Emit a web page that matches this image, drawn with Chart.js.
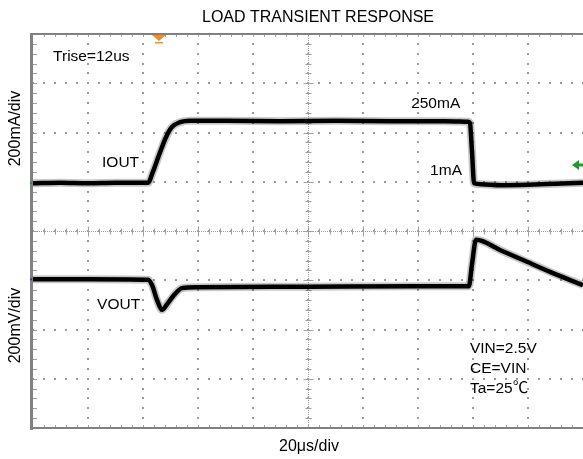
<!DOCTYPE html>
<html>
<head>
<meta charset="utf-8">
<script src="https://cdn.jsdelivr.net/npm/chart.js@4"></script>
<style>
  html, body { margin: 0; padding: 0; background: #fff; }
  canvas { display: block; }
</style>
</head>
<body>
<canvas id="scope" width="583" height="459"></canvas>
<script>
// time in us (20us/div, 10 div), levels in divisions from bottom (8 div)
const iTime = [0, 10, 20, 30, 41.8, 43.6, 46.2, 48.4, 50.5, 53.5, 57, 70, 90, 110, 130, 150, 158.2, 158.9, 159.6, 160.4, 163, 170, 180, 190, 200];
const iout  = [4.97, 4.98, 4.97, 4.98, 4.98, 5.20, 5.60, 5.91, 6.11, 6.21, 6.24, 6.24, 6.23, 6.24, 6.23, 6.23, 6.22, 6.19, 5.65, 4.97, 4.95, 4.93, 4.94, 4.96, 4.98];

const vTime = [0, 20, 41.8, 43.3, 45.1, 46.9, 49.1, 51.6, 54.2, 60, 100, 140, 158.5, 159.6, 161.1, 170, 178.2, 188, 200];
const vout  = [3.02, 3.02, 3.01, 2.90, 2.60, 2.40, 2.54, 2.72, 2.84, 2.86, 2.87, 2.88, 2.88, 3.31, 3.82, 3.61, 3.41, 3.17, 2.90];

const xDivs = 10, yDivs = 8, usPerDiv = 20;
const triggerTime = 45.8;   // orange trigger marker
const refLevel = 5.34;      // green level arrow on the right

const labels = [
  { text: "Trise=12us", t: 7.3, v: 7.45 },
  { text: "IOUT", t: 25.1, v: 5.30 },
  { text: "250mA", t: 137.5, v: 6.50 },
  { text: "1mA", t: 144.4, v: 5.14 },
  { text: "VOUT", t: 23.3, v: 2.42 },
  { text: "VIN=2.5V", t: 158.9, v: 1.52 },
  { text: "CE=VIN", t: 158.9, v: 1.11 },
  { text: "Ta=25℃", t: 158.9, v: 0.71 }
];

function pts(xs, ys) {
  return xs.map((x, i) => ({ x: x, y: ys[i] }));
}

const FONT = "'Liberation Sans', Arial, 'Noto Sans CJK JP', sans-serif";

const graticule = {
  id: "graticule",
  beforeDatasetsDraw(chart) {
    const { ctx, chartArea: a, scales: { x, y } } = chart;
    ctx.save();

    // dotted major lines, a dot every 1/5 div
    ctx.fillStyle = "#9a9a9a";
    for (let i = 1; i < xDivs; i++) {
      const px = Math.round(x.getPixelForValue(i * usPerDiv));
      for (let j = 0; j <= yDivs * 5; j++) {
        const py = Math.round(y.getPixelForValue(j / 5));
        ctx.fillRect(px - 1, py - 1, 2, 2);
      }
    }
    for (let j = 1; j < yDivs; j++) {
      const py = Math.round(y.getPixelForValue(j));
      for (let i = 0; i <= xDivs * 5; i++) {
        const px = Math.round(x.getPixelForValue(i * usPerDiv / 5));
        ctx.fillRect(px - 1, py - 1, 2, 2);
      }
    }

    // centre cross with minor ticks
    const cx = Math.round(x.getPixelForValue(xDivs / 2 * usPerDiv)) + 0.5;
    const cy = Math.round(y.getPixelForValue(yDivs / 2)) + 0.5;
    ctx.strokeStyle = "#a0a0a0";
    ctx.lineWidth = 1;
    ctx.setLineDash([1, 1]);
    ctx.beginPath();
    ctx.moveTo(a.left, cy); ctx.lineTo(a.right, cy);
    ctx.moveTo(cx, a.top); ctx.lineTo(cx, a.bottom);
    ctx.stroke();
    ctx.setLineDash([]);
    ctx.beginPath();
    for (let i = 1; i < xDivs * 5; i++) {
      const px = Math.round(x.getPixelForValue(i * usPerDiv / 5)) + 0.5;
      const h = i % 5 === 0 ? 5 : 3;
      ctx.moveTo(px, cy - h); ctx.lineTo(px, cy + h);
      // ticks on top and bottom frame
      ctx.moveTo(px, a.top); ctx.lineTo(px, a.top + 3);
      ctx.moveTo(px, a.bottom); ctx.lineTo(px, a.bottom - 3);
    }
    for (let j = 1; j < yDivs * 5; j++) {
      const py = Math.round(y.getPixelForValue(j / 5)) + 0.5;
      const h = j % 5 === 0 ? 5 : 3;
      ctx.moveTo(cx - h, py); ctx.lineTo(cx + h, py);
      ctx.moveTo(a.left, py); ctx.lineTo(a.left + 4, py);
    }
    ctx.stroke();
    ctx.restore();
  },
  afterDatasetsDraw(chart) {
    const { ctx, chartArea: a, scales: { x, y } } = chart;
    ctx.save();

    // frame
    ctx.fillStyle = "#808080";
    ctx.fillRect(a.left - 3, a.top - 1, 3, a.bottom - a.top + 3);
    ctx.fillRect(a.left - 3, a.top - 1, a.right - a.left + 3, 2);
    ctx.fillRect(a.left - 3, a.bottom - 1, a.right - a.left + 3, 2);

    // trigger marker
    const tx = x.getPixelForValue(triggerTime);
    ctx.fillStyle = "#f28c28";
    ctx.beginPath();
    ctx.moveTo(tx - 7, a.top + 1);
    ctx.lineTo(tx + 7, a.top + 1);
    ctx.lineTo(tx, a.top + 7);
    ctx.closePath();
    ctx.fill();
    ctx.fillRect(tx - 4, a.top + 8, 8, 1.5);

    // level arrow on the right
    const ry = y.getPixelForValue(refLevel);
    ctx.fillStyle = "#1f9a2a";
    ctx.beginPath();
    ctx.moveTo(a.right - 11, ry);
    ctx.lineTo(a.right - 4, ry - 5);
    ctx.lineTo(a.right - 4, ry + 5);
    ctx.closePath();
    ctx.fill();
    ctx.fillRect(a.right - 5, ry - 1.5, 5, 3);

    // ground marks on left edge
    ctx.fillRect(a.left - 3, y.getPixelForValue(iout[0]) - 1, 2, 2);
    ctx.fillStyle = "#3040c0";
    ctx.fillRect(a.left - 3, y.getPixelForValue(vout[0]) - 1, 2, 2);

    // in-plot annotations
    ctx.fillStyle = "#000";
    ctx.font = "15.5px " + FONT;
    ctx.textBaseline = "alphabetic";
    ctx.textAlign = "left";
    labels.forEach(l => {
      ctx.fillText(l.text, x.getPixelForValue(l.t), y.getPixelForValue(l.v));
    });

    // title and axis captions
    ctx.textAlign = "center";
    ctx.font = "16px " + FONT;
    ctx.fillText("LOAD TRANSIENT RESPONSE", 318, 22);
    ctx.fillText("20μs/div", (a.left + a.right) / 2 + 1, 451);

    const captions = [
      { text: "200mA/div", v: 6 },
      { text: "200mV/div", v: 2 }
    ];
    captions.forEach(c => {
      ctx.save();
      ctx.translate(20, y.getPixelForValue(c.v) - 4);
      ctx.rotate(-Math.PI / 2);
      ctx.fillText(c.text, 0, 0);
      ctx.restore();
    });
    ctx.restore();
  }
};

function traceSets(data) {
  return [
    { data: data, borderColor: "rgba(0,0,0,0.22)", borderWidth: 8 },
    { data: data, borderColor: "#000", borderWidth: 4.5 }
  ];
}

new Chart(document.getElementById("scope"), {
  type: "line",
  data: {
    datasets: [...traceSets(pts(iTime, iout)), ...traceSets(pts(vTime, vout))].map(d => Object.assign(d, {
      pointRadius: 0,
      cubicInterpolationMode: "monotone",
      fill: false
    }))
  },
  options: {
    responsive: false,
    devicePixelRatio: 1,
    animation: false,
    layout: { padding: { left: 33, top: 34, right: 0, bottom: 31 } },
    plugins: { legend: { display: false }, tooltip: { enabled: false } },
    scales: {
      x: { type: "linear", min: 0, max: xDivs * usPerDiv, display: false },
      y: { type: "linear", min: 0, max: yDivs, display: false }
    }
  },
  plugins: [graticule]
});
</script>
</body>
</html>
